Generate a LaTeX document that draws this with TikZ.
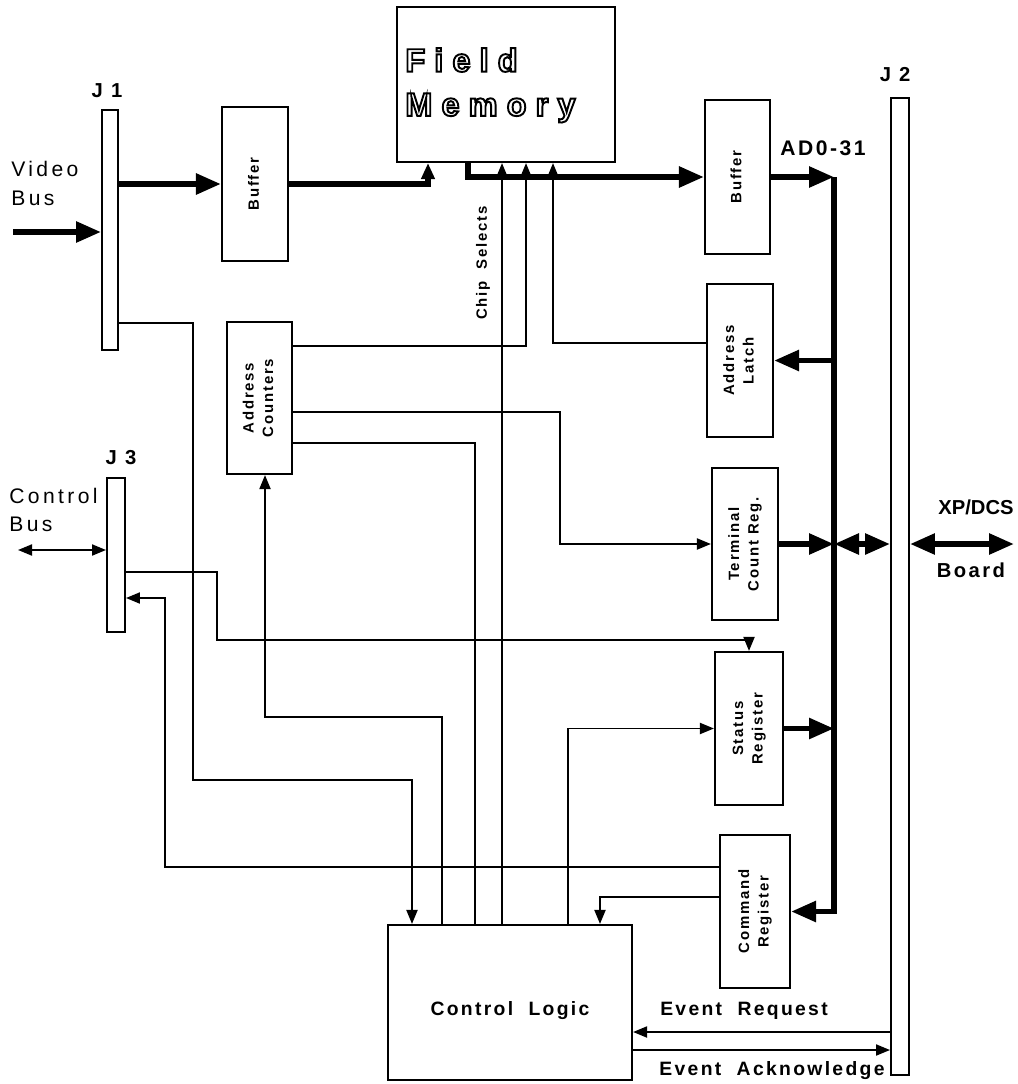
\documentclass[tikz,border=0pt]{standalone}
\usepackage{fontspec}
\setmainfont{Liberation Sans}
\newfontfamily\boxfont[LetterSpace=12]{Liberation Sans}
\newfontfamily\widefont[LetterSpace=16]{Liberation Sans}
\newfontfamily\fmfont[LetterSpace=28]{Liberation Sans}
\usetikzlibrary{arrows.meta}
\newcommand\vlab[1]{\rotatebox{90}{\begin{tabular}{@{}c@{}}#1\end{tabular}}}
% hollow letters: stroked text render mode
\newcommand\hollow[1]{\special{pdf:literal direct 1 Tr 1.1 w}#1\special{pdf:literal direct 0 Tr}}

\begin{document}
\begin{tikzpicture}[x=0.2mm, y=-0.2mm,
  box/.style={draw, line width=1.2pt, inner sep=0pt, align=center,
              font=\boxfont\bfseries\fontsize{8.5}{11}\selectfont},
  bar/.style={draw, line width=1.1pt, inner sep=0pt},
  lab/.style={font=\boxfont\bfseries\fontsize{11.5}{14}\selectfont, inner sep=0pt},
  side/.style={font=\widefont\fontsize{12}{16}\selectfont, align=left,
               inner sep=0pt, anchor=west},
  bus/.style={line width=3.2pt},
  busarr/.style={bus, -{Triangle[length=5mm, width=4mm]}},
  busin/.style={bus, -{Triangle[length=3.2mm, width=2.6mm]}},
  busdbl/.style={bus, {Triangle[length=5mm, width=4mm]}-{Triangle[length=5mm, width=4mm]}},
  sig/.style={line width=1.1pt},
  sigarr/.style={sig, -{Triangle[length=2.8mm, width=2.2mm]}},
  sigdbl/.style={sig, {Triangle[length=2.8mm, width=2.2mm]}-{Triangle[length=2.8mm, width=2.2mm]}}]

  \useasboundingbox (0,0) rectangle (1017,1084);

  % memory
  \node[box, minimum width=43.6mm, minimum height=31mm] (fm) at (506,84.5) {};
  \node[font=\fmfont\bfseries\fontsize{18.5}{20}\selectfont, anchor=west, inner sep=0pt]
    (fmfield) at (405,60) {\hollow{Field}};
  \node[font=\fmfont\bfseries\fontsize{18.5}{20}\selectfont, anchor=west, inner sep=0pt]
    (fmmem) at (405,108) {\hollow{Memory}};

  % connectors
  \node[bar, minimum width=3.2mm, minimum height=48mm] (j1) at (110,230) {};
  \node[bar, minimum width=3.6mm, minimum height=30.8mm] (j3) at (116,555) {};
  \node[bar, minimum width=3.6mm, minimum height=195.4mm] (j2) at (900,586.5) {};
  \node[lab] (j1lab) at (107,91) {J 1};
  \node[lab] (j3lab) at (121,458) {J 3};
  \node[lab] (j2lab) at (895,75) {J 2};

  % left column
  \node[box, minimum width=13.2mm, minimum height=30.8mm] (buf1) at (255,184) {\vlab{Buffer}};
  \node[box, minimum width=13mm, minimum height=30.4mm] (ac) at (259.5,398)
    {\vlab{Address\\Counters}};

  % right column
  \node[box, minimum width=13mm, minimum height=30.8mm] (buf2) at (737.5,177) {\vlab{Buffer}};
  \node[box, minimum width=13.2mm, minimum height=30.6mm] (al) at (740,360.5)
    {\vlab{Address\\Latch}};
  \node[box, minimum width=13.2mm, minimum height=30.4mm] (tcr) at (745,544)
    {\vlab{Terminal\\Count Reg.}};
  \node[box, minimum width=13.6mm, minimum height=30.6mm] (sr) at (749,728.5)
    {\vlab{Status\\Register}};
  \node[box, minimum width=14mm, minimum height=30.6mm] (cr) at (755,911.5)
    {\vlab{Command\\Register}};

  % control logic
  \node[box, minimum width=48.8mm, minimum height=31mm,
        font=\boxfont\bfseries\fontsize{11}{13}\selectfont] (cl) at (510,1002.5)
    {\raisebox{-2.5mm}[0pt][0pt]{Control\ \ Logic}};

  % texts
  \node[side] (vidlab) at (11,183.5) {Video\\Bus};
  \node[side] (ctllab) at (9,510) {Control\\Bus};
  \node[lab, font=\boxfont\bfseries\fontsize{12}{14}\selectfont] (adlab) at (823,148) {AD0-31};
  \node[lab, anchor=east, font=\bfseries\fontsize{11.5}{14}\selectfont] (xplab) at (1014,507) {XP/DCS};
  \node[lab] (bdlab) at (971,570) {Board};
  \node[box, draw=none, rotate=90] (cslab) at (483,263) {Chip\ \ Selects};
  \node[lab, font=\boxfont\bfseries\fontsize{11}{13}\selectfont] (erlab) at (744,1011)
    {Event\ \ Request};
  \node[lab, font=\boxfont\bfseries\fontsize{11}{13}\selectfont] (ealab) at (772,1071)
    {Event\ \ Acknowledge};

  % free ends
  \coordinate (vin) at (13,232);
  \coordinate (cbus) at (18,550);
  \coordinate (bustop) at (834,177);
  \coordinate (board) at (1014,544);

  % data paths
  \draw[busarr] (vin) -- (j1.west |- vin);
  \draw[busarr] (j1.east |- buf1.west) -- (buf1.west);
  \draw[busin] (buf1.east) -| (fm.south -| 428,0);
  \draw[busarr] (fm.south -| 468,0) |- (buf2.west);
  \draw[busarr] (buf2.east) -- (bustop);
  \draw[busarr] (bustop) |- (cr.east);
  \draw[busarr] (bustop |- al.east) -- (al.east);
  \draw[busarr] (tcr.east) -- (bustop |- tcr.east);
  \draw[busarr] (sr.east) -- (bustop |- sr.east);
  \draw[busdbl] (bustop |- board) -- (j2.west |- board);
  \draw[busdbl] (j2.east |- board) -- (board);

  % control lines
  \draw[sigarr] (cl.north -| 502,0) -- (fm.south -| 502,0);
  \draw[sigarr] (ac.east |- 0,346) -| (fm.south -| 526,0);
  \draw[sigarr] (al.west |- 0,343) -| (fm.south -| 553,0);
  \draw[sigarr] (ac.east |- 0,412) -| (tcr.west -| 560,0) -- (tcr.west);
  \draw[sig] (ac.east |- 0,443) -| (cl.north -| 475,0);
  \draw[sigarr] (cl.north -| 442,0) |- (265,717) -- (ac.south -| 265,0);
  \draw[sigarr] (j1.east |- 0,323) -| (193,780) -| (cl.north -| 412,0);
  \draw[sigarr] (j3.east |- 0,572) -| (217,640) -| (sr.north);
  \draw[sigarr] (cr.west |- 0,867) -| (165,598) -- (j3.east |- 0,598);
  \draw[sigarr] (cr.west |- 0,897) -| (cl.north -| 600,0);
  \draw[sigarr] (cl.north -| 568,0) |- (sr.west);
  \draw[sigdbl] (cbus) -- (j3.west |- cbus);
  \draw[sigarr] (j2.west |- 0,1032) -- (cl.east |- 0,1032);
  \draw[sigarr] (cl.east |- 0,1050) -- (j2.west |- 0,1050);
\end{tikzpicture}
\end{document}
